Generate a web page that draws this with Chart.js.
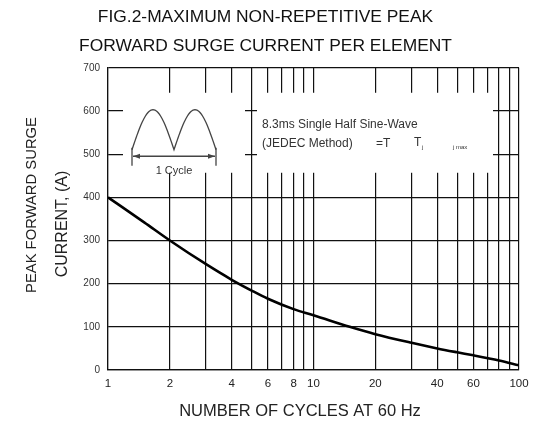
<!DOCTYPE html>
<html>
<head>
<meta charset="utf-8">
<script src="https://cdn.jsdelivr.net/npm/chart.js@4.4.1/dist/chart.umd.min.js"></script>
<style>
  body { margin: 0; background: #fff; }
</style>
</head>
<body>
<canvas id="myChart" width="538" height="429"></canvas>
<script>
// curve
var cycles = [1, 1.5, 2, 3, 4, 5, 6, 8, 10, 15, 20, 30, 40, 50, 60, 80, 100];
var surgeCurrent = [400, 342, 300, 245, 209, 184, 165, 141, 127, 100, 83, 63, 50, 41, 34, 22, 11];

var xGridValues = [1, 2, 3, 4, 5, 6, 7, 8, 9, 10, 20, 30, 40, 50, 60, 70, 80, 90, 100];
var xTickLabels = [1, 2, 4, 6, 8, 10, 20, 40, 60, 100];
var yTickLabels = [0, 100, 200, 300, 400, 500, 600, 700];

var fontFam = 'Arial, "Liberation Sans", sans-serif';

var points = [];
for (var i = 0; i < cycles.length; i++) {
  points.push({ x: cycles[i], y: surgeCurrent[i] });
}

// white boxes over the grid, wave sketch and the notes
const insetPlugin = {
  id: 'inset',
  beforeDatasetsDraw(chart) {
    const ctx = chart.ctx;
    const a = chart.chartArea;
    const top = a.top + 25, bot = a.top + 105;
    ctx.save();
    ctx.fillStyle = '#fff';
    ctx.fillRect(a.left + 15, top, 122, bot - top);
    ctx.fillRect(a.left + 149, top, 236, bot - top);

    // two half sine humps
    const x0 = a.left + 24, w = 42, base = a.top + 82, h = 40;
    ctx.strokeStyle = '#444';
    ctx.lineWidth = 1.3;
    ctx.beginPath();
    for (var k = 0; k <= 84; k++) {
      var px = x0 + k;
      var py = base - h * Math.abs(Math.sin(Math.PI * k / w));
      if (k === 0) ctx.moveTo(px, py); else ctx.lineTo(px, py);
    }
    ctx.stroke();

    // 1 cycle arrow
    const ay = a.top + 88.5;
    ctx.beginPath();
    ctx.moveTo(x0, base - 2); ctx.lineTo(x0, base + 16);
    ctx.moveTo(x0 + 84, base - 2); ctx.lineTo(x0 + 84, base + 16);
    ctx.moveTo(x0 + 1, ay); ctx.lineTo(x0 + 83, ay);
    ctx.stroke();
    ctx.fillStyle = '#444';
    ctx.beginPath();
    ctx.moveTo(x0 + 1, ay); ctx.lineTo(x0 + 8, ay - 2.5); ctx.lineTo(x0 + 8, ay + 2.5); ctx.closePath();
    ctx.moveTo(x0 + 83, ay); ctx.lineTo(x0 + 76, ay - 2.5); ctx.lineTo(x0 + 76, ay + 2.5); ctx.closePath();
    ctx.fill();

    ctx.fillStyle = '#333';
    ctx.font = '11px ' + fontFam;
    ctx.textAlign = 'center';
    ctx.textBaseline = 'middle';
    ctx.fillText('1 Cycle', x0 + 42, a.top + 103);

    ctx.textAlign = 'left';
    ctx.font = '12px ' + fontFam;
    ctx.fillText('8.3ms Single Half Sine-Wave', a.left + 154, a.top + 57);
    ctx.fillText('(JEDEC Method)', a.left + 154, a.top + 76);
    ctx.fillText('=T', a.left + 268, a.top + 76);
    ctx.fillText('T', a.left + 306, a.top + 75);
    ctx.font = '6px ' + fontFam;
    ctx.fillText('j', a.left + 314, a.top + 80);
    ctx.fillText('j max', a.left + 345, a.top + 80);
    ctx.restore();
  }
};

// axis titles
const axisTitlePlugin = {
  id: 'axisTitles',
  afterDraw(chart) {
    const ctx = chart.ctx;
    ctx.save();
    ctx.fillStyle = '#222';
    ctx.textAlign = 'center';
    ctx.textBaseline = 'middle';
    ctx.font = '16.5px ' + fontFam;
    ctx.fillText('NUMBER OF CYCLES AT 60 Hz', 300, 411);
    ctx.translate(32, 205);
    ctx.rotate(-Math.PI / 2);
    ctx.font = '14.8px ' + fontFam;
    ctx.fillText('PEAK FORWARD SURGE', 0, 0);
    ctx.restore();
    ctx.save();
    ctx.fillStyle = '#222';
    ctx.font = '16px ' + fontFam;
    ctx.textAlign = 'center';
    ctx.textBaseline = 'middle';
    ctx.translate(63, 224);
    ctx.rotate(-Math.PI / 2);
    ctx.fillText('CURRENT, (A)', 0, 0);
    ctx.restore();
  }
};

const config = {
  type: 'line',
  data: {
    datasets: [{
      label: 'Peak forward surge current',
      data: points,
      borderColor: '#000',
      borderWidth: 2.6,
      pointRadius: 0,
      fill: false,
      cubicInterpolationMode: 'monotone'
    }]
  },
  options: {
    responsive: false,
    animation: false,
    layout: {
      padding: { left: 12, right: 19, top: 0, bottom: 29 }
    },
    plugins: {
      legend: { display: false },
      tooltip: { enabled: false },
      title: {
        display: true,
        text: ['FIG.2-MAXIMUM NON-REPETITIVE PEAK', 'FORWARD SURGE CURRENT PER ELEMENT'],
        color: '#111',
        font: { family: fontFam, size: 17.4, weight: 'normal', lineHeight: 1.66 },
        padding: { top: 3, bottom: 7 }
      }
    },
    scales: {
      x: {
        type: 'logarithmic',
        min: 1,
        max: 100,
        afterBuildTicks: function (scale) {
          scale.ticks = xGridValues.map(function (v) { return { value: v }; });
        },
        afterFit: function (scale) { scale.height = 30; },
        ticks: {
          autoSkip: false,
          maxRotation: 0,
          padding: 7,
          color: '#222',
          font: { family: fontFam, size: 11.5 },
          callback: function (value) {
            return xTickLabels.indexOf(value) >= 0 ? String(value) : '';
          }
        },
        grid: { color: '#111', lineWidth: 1.2, drawTicks: false },
        border: { color: '#111', width: 1.2 }
      },
      y: {
        min: 0,
        max: 700,
        afterBuildTicks: function (scale) {
          scale.ticks = yTickLabels.map(function (v) { return { value: v }; });
        },
        afterFit: function (scale) { scale.width = 96; },
        ticks: {
          padding: 8,
          color: '#333',
          font: { family: fontFam, size: 10 }
        },
        grid: { color: '#111', lineWidth: 1.2, drawTicks: false },
        border: { color: '#111', width: 1.2 }
      }
    }
  },
  plugins: [insetPlugin, axisTitlePlugin]
};

const myChart = new Chart(document.getElementById('myChart'), config);
</script>
</body>
</html>
